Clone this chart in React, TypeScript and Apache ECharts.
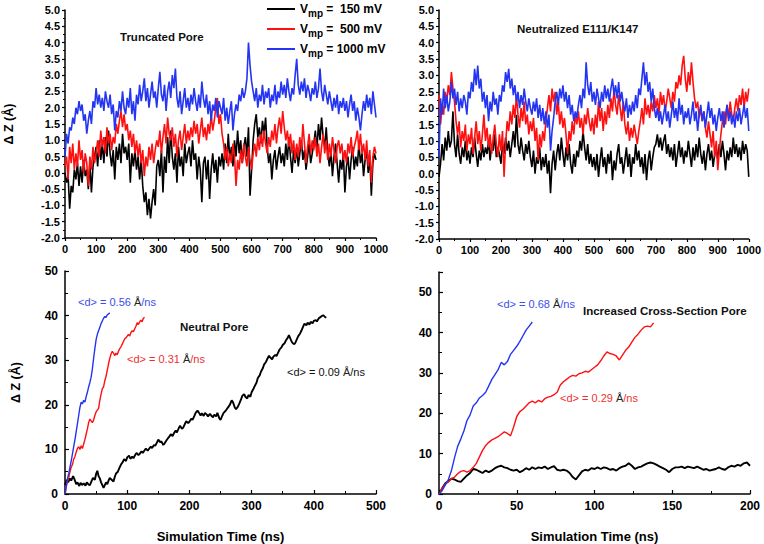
import React, { useEffect, useRef } from "react";
import * as echarts from "echarts";

// ---- data ----
const TOP_STEP_NS = 5; // top panels: one value every 5 ns, 0..1000 ns

const tlBlack = [
  0.0, -0.3, -0.1, -1.1, -0.4, -0.6, 0.1, -0.2, 0.3, -0.4,
  0.2, -0.3, 0.4, -0.1, 0.1, -0.5, 0.3, -0.6, 0.2, 0.5,
  0.8, 0.2, 1.0, 0.4, 0.9, 0.3, 1.1, 0.5, 1.3, 0.6,
  0.2, 0.7, -0.2, 0.8, 0.4, 0.9, 0.3, 1.2, 0.6, 0.8,
  0.4, 0.9, -0.3, 0.6, 0.2, 0.7, 0.1, 0.5, -0.2, 0.4,
  -0.4, -0.9, -0.6, -1.3, -0.8, -1.4, -0.9, -0.5, -1.0, 0.2,
  0.4, -0.1, 0.7, -0.6, 0.5, 0.0, 1.1, 0.3, 1.3, 0.5,
  0.1, 0.6, -0.3, 0.8, 0.2, 0.5, -0.1, 0.9, 0.3, 0.6,
  0.8, 0.2, 1.0, 0.4, 0.6, -0.2, 0.5, 0.1, -0.9, 0.3,
  0.5, -0.2, 0.4, -0.8, 0.1, 0.6, 0.0, 0.4, -0.3, 0.5,
  0.2, 0.6, 0.1, 0.9, 0.3, 1.2, 0.4, 0.8, 0.2, 1.0,
  0.5, 1.3, 0.6, 1.0, 0.3, 0.8, 1.1, 0.5, 1.4, -0.7,
  0.1, 1.0, 1.5, 1.8, 1.1, 1.4, 0.9, 1.6, 1.2, 1.7,
  0.8, 0.3, 0.6, -0.2, 0.4, 0.7, 0.1, 0.5, 0.8, 0.3,
  0.6, 0.2, 0.9, 0.4, 1.1, 0.5, 0.0, 0.7, 0.3, 0.8,
  0.2, 0.6, 1.0, 0.4, 0.7, 0.1, 0.5, 0.9, 0.3, 0.6,
  0.9, 1.3, 0.7, 1.5, 1.0, 1.7, 1.1, 0.8, 1.4, 0.6,
  0.2, 0.7, -0.1, 0.5, 0.9, 0.3, -0.3, 0.4, 0.1, 0.6,
  -0.6, 0.2, 0.5, -0.2, 0.4, 0.8, 0.1, 0.5, 0.2, 0.9,
  0.3, 0.6, -0.1, 0.4, 0.7, 0.0, 0.5, -0.7, 0.3, 0.6,
  0.4,
];

const tlRed = [
  0.2, 0.5, -0.2, 0.8, 0.3, 0.9, 0.1, 0.6, 0.2, 1.0,
  0.4, 0.7, 0.0, 0.6, 0.3, -0.4, 0.5, 0.1, 0.8, 0.3,
  0.6, 1.0, 0.5, 1.3, 0.8, 1.1, 0.6, 1.4, 0.9, 1.2,
  0.7, 1.1, 0.9, 1.5, 1.2, 1.6, 1.9, 1.4, 1.8, 1.3,
  1.5, 1.0, 1.3, 0.8, 1.2, 0.6, 1.0, 0.5, 0.9, 0.3,
  0.7, -0.1, 0.5, 0.2, 0.8, 0.4, 0.9, 0.3, 0.7, 1.0,
  0.8, 1.3, 0.6, 1.1, 1.5, 0.9, 1.7, 1.2, 1.0, 1.4,
  0.8, 1.2, 0.5, 1.0, 1.3, 0.7, 1.1, 1.5, 0.9, 1.3,
  1.0, 1.4, 1.1, 1.6, 1.2, 1.5, 0.9, 1.3, 1.7, 1.1,
  1.4, 1.0, 1.5, 1.2, 1.8, 1.3, 1.6, 2.0, 2.3, 1.5,
  1.8, 1.2, 0.9, 0.4, 0.8, 0.2, 0.6, 0.3, 0.9, 0.5,
  -0.4, 0.4, 0.1, 0.7, 0.3, 0.9, 0.5, 0.2, 0.8, 0.4,
  0.1, 0.6, 0.9, 0.5, 1.1, 0.7, 1.2, 0.8, 1.3, 0.9,
  0.6, 1.1, 0.8, 1.3, 1.0, 1.5, 0.9, 1.4, 1.7, 1.2,
  1.9, 1.4, 1.0, 1.3, 0.8, 1.2, 0.6, 1.0, 0.4, 0.9,
  0.5, 1.1, 0.7, 1.5, 0.9, 0.3, 0.8, 1.2, 0.6, 1.0,
  0.7, 1.1, 0.5, 0.9, 0.3, 0.8, 1.2, 0.6, 1.0, 0.4,
  0.9, 0.5, 1.1, 0.7, 0.3, 0.8, 1.0, 0.6, 0.9, 0.4,
  0.7, 0.3, 0.9, 0.6, 1.1, 0.5, 0.8, 1.0, 1.3, 0.7,
  1.2, 0.6, 0.9, 0.4, 1.0, 0.2, 0.7, -0.3, 0.5, 0.8,
  0.6,
];

const tlBlue = [
  0.5, 1.2, 0.9, 1.4, 1.3, 1.7, 1.5, 2.0, 1.8, 2.2,
  1.9, 2.1, 1.6, 1.8, 1.2, 1.6, 1.9, 1.5, 2.2, 2.0,
  2.6, 2.1, 2.4, 2.0, 2.3, 1.9, 2.5, 2.2, 2.0, 2.4,
  1.8, 2.1, 1.3, 1.9, 1.7, 2.2, 1.9, 2.5, 2.0, 1.8,
  2.3, 2.0, 2.6, 1.8, 2.2, 1.6, 2.4, 2.1, 2.7, 2.2,
  2.5, 2.9, 2.2, 2.6, 2.0, 2.4, 2.8, 2.3, 2.5, 2.0,
  2.6, 3.1, 2.4, 2.2, 2.7, 1.9, 2.5, 2.8, 2.3, 3.0,
  2.6, 3.2, 2.3, 2.0, 2.5, 1.8, 2.2, 2.6, 2.0, 2.3,
  1.9, 2.4, 2.1, 2.6, 2.2, 1.9, 2.4, 2.0, 2.8, 2.3,
  2.0, 2.4, 1.8, 2.2, 1.6, 2.1, 1.9, 2.3, 1.7, 2.2,
  2.0, 1.8, 2.3, 1.6, 2.0, 1.5, 1.9, 2.2, 1.3, 1.8,
  2.1, 1.9, 2.4, 2.2, 2.6, 2.3, 2.5, 2.9, 4.0, 3.3,
  2.8, 2.5, 2.2, 2.6, 2.0, 2.4, 2.2, 2.7, 2.1, 2.5,
  2.3, 2.6, 2.0, 2.4, 2.2, 2.7, 2.1, 2.5, 2.3, 2.8,
  2.4, 2.7, 2.3, 2.9, 2.5, 2.2, 2.6, 2.4, 3.0, 3.5,
  2.7, 2.4, 2.8, 2.5, 2.9, 2.3, 2.7, 2.5, 2.2, 2.6,
  2.4, 2.8, 2.3, 2.6, 3.2, 2.5, 2.2, 2.7, 2.4, 2.1,
  2.5, 2.2, 1.9, 2.3, 2.0, 2.4, 1.8, 2.2, 2.0, 2.3,
  1.9, 2.2, 1.7, 2.1, 2.4, 1.9, 2.2, 1.6, 2.0, 1.7,
  1.3, 1.8, 2.2, 1.9, 2.4, 2.0, 2.3, 1.8, 2.5, 2.1,
  1.7,
];

const trBlack = [
  -0.1, 0.3, 0.9, 0.4, 1.1, 0.7, 1.3, 0.8, 1.0, 1.9,
  0.9, 0.5, 1.2, 0.6, 0.3, 0.8, 0.5, 1.0, 0.4, 0.7,
  0.3, 0.8, 0.5, 1.1, 0.6, 0.2, 0.7, 0.4, 0.9, 0.5,
  0.8, 0.6, 1.0, 0.4, 0.9, 0.7, 1.2, 0.5, 0.8, 0.6,
  0.3, 0.9, 0.6, 1.1, 0.7, 1.0, 0.5, 0.9, 1.3, 0.8,
  1.8, 0.9, 0.6, 1.1, 0.7, 0.4, 0.9, 0.6, 1.0, 0.5,
  0.2, 0.7, 0.0, 0.5, 0.3, 0.8, 0.1, 0.5, 0.2, 0.6,
  0.0, 0.4, -0.6, 0.3, 0.7, 0.1, 0.6, 0.9, 0.4, 1.1,
  0.6, 0.2, 0.8, 0.4, 0.9, 0.3, 0.0, 0.6, 0.2, 0.7,
  0.5, 1.0, 0.7, 1.3, 0.8, 0.4, 0.9, 0.3, 0.6, 0.2,
  0.5, 0.1, 0.6, -0.1, 0.4, 0.8, 0.2, 0.5, 0.0, 0.6,
  0.3, 0.7, -0.2, 0.4, 0.1, 0.6, 0.9, 0.3, 0.5, 0.0,
  0.4, 0.8, 0.2, 0.6, -0.1, 0.5, 0.3, 0.9, 0.4, 0.7,
  0.2, 0.5, 0.0, 0.6, -0.2, 0.4, 0.7, 0.1, 0.5, 0.8,
  0.9, 1.2, 0.8, 1.1, 0.7, 1.0, 1.2, 0.6, 0.9, 0.5,
  0.8, 0.4, 0.9, 0.2, 0.6, 1.0, 0.5, 0.8, 0.3, 0.7,
  0.5, 1.0, 0.6, 0.2, 0.8, 0.4, 0.9, 0.5, 1.1, 0.6,
  0.3, 0.7, 0.1, 0.6, 0.9, 0.4, 0.7, 0.2, 0.6, 0.8,
  0.4, 0.9, 0.5, 1.0, 0.6, 0.1, 0.7, 0.4, 0.8, 0.5,
  1.1, 0.6, 0.9, 0.5, 0.8, 0.4, 1.0, 0.6, 0.9, 0.7,
  -0.1,
];

const trRed = [
  2.4, 1.5, 2.1, 1.8, 2.5, 2.2, 2.7, 2.4, 3.1, 2.6,
  2.2, 1.6, 1.2, 1.6, 0.8, 1.3, 1.0, 1.5, 0.7, 1.2,
  0.9, 1.4, 0.6, 1.1, 1.6, 0.9, 1.3, 0.7, 1.2, 1.8,
  1.0, 1.4, 0.8, 1.2, 0.6, 1.1, 1.5, 0.9, 0.5, 1.2,
  0.7, 1.3, -0.1, 0.9, 1.6, 1.3, 1.9, 1.5, 2.1, 1.7,
  2.4, 1.8, 1.4, 2.0, 1.6, 2.2, 1.5, 1.8, 1.2, 1.6,
  1.3, 1.7, 1.0, 1.4, 0.4, 1.2, 0.8, 1.3, 1.0, 1.6,
  2.0, 2.4, 1.9, 2.6, 2.2, 2.5, 1.8, 2.2, 1.5, 1.9,
  1.4, 1.7, 1.2, 0.6, 1.3, 1.0, 1.6, 1.2, 1.8, 1.5,
  1.9, 1.4, 1.7, 1.2, 1.8, 1.5, 2.0, 1.6, 1.3, 1.7,
  1.2, 1.8, 1.4, 2.2, 1.6, 2.0, 1.3, 1.9, 1.5, 2.1,
  1.7, 2.3, 1.9, 2.6, 2.1, 1.8, 2.4, 2.0, 1.6, 2.2,
  1.5, 1.2, 1.6, 1.0, 1.4, 1.1, 1.5, 1.2, 0.9, 1.3,
  1.6, 2.0, 1.5, 2.3, 1.8, 2.1, 1.7, 2.2, 1.9, 2.4,
  2.0, 2.3, 1.8, 2.5, 2.1, 2.4, 1.9, 2.2, 2.6, 2.3,
  2.0, 2.5, 2.2, 2.8, 2.6, 3.0, 2.7, 3.3, 3.6, 2.9,
  2.5, 3.1, 2.7, 3.4, 2.8, 2.3, 2.0, 2.2, 1.7, 2.0,
  1.6, 1.9, 1.4, 1.1, 1.6, 1.2, 0.8, 1.3, 0.5, 1.0,
  0.1, 0.7, 1.2, 1.6, 1.9, 1.5, 2.1, 1.7, 2.2, 1.8,
  1.6, 2.0, 2.3, 1.9, 2.4, 2.1, 2.6, 2.0, 2.5, 2.2,
  2.6,
];

const trBlue = [
  0.5, 2.3, 1.8, 2.6, 2.0, 2.4, 1.9, 2.2, 2.8, 2.3,
  2.6, 2.1, 2.5, 1.9, 2.3, 2.0, 2.4, 2.2, 1.8, 2.5,
  2.3, 2.8, 2.5, 3.2, 2.7, 3.3, 2.6, 2.9, 2.2, 2.5,
  2.0, 2.4, 1.6, 2.2, 1.9, 2.5, 2.1, 2.3, 1.8, 2.4,
  2.2, 2.7, 2.5, 3.1, 2.8, 3.2, 2.6, 2.9, 2.4, 2.7,
  2.2, 2.5, 2.0, 2.4, 2.1, 2.6, 2.2, 1.9, 2.3, 2.0,
  1.8, 2.2, 1.9, 2.3, 1.7, 2.1, 1.6, 2.0, 1.5, 1.9,
  1.4, 1.8, 0.7, 1.3, 1.7, 2.2, 2.5, 2.1, 2.6, 2.3,
  2.7, 2.2, 2.5, 2.0, 2.4, 1.8, 2.1, 1.6, 1.9, 1.7,
  2.1, 2.4, 2.0, 2.6, 2.3, 3.4, 2.7, 2.4, 2.8, 2.2,
  2.5, 2.1, 2.6, 2.3, 2.0, 2.5, 2.2, 2.7, 2.3, 2.6,
  2.2, 2.6, 2.9, 2.4, 2.7, 2.3, 2.8, 2.2, 2.5, 2.1,
  1.9, 2.3, 1.7, 2.1, 1.8, 2.2, 1.9, 2.4, 2.0, 2.6,
  2.4, 2.9, 3.4, 2.7, 3.1, 2.5, 2.8, 2.2, 2.6, 2.0,
  1.7, 2.0, 1.6, 1.9, 1.5, 1.8, 2.1, 1.6, 1.9, 1.4,
  1.8, 2.2, 1.7, 2.0, 1.6, 2.3, 1.8, 2.1, 1.5, 1.9,
  1.7, 2.0, 1.5, 1.8, 2.2, 1.6, 1.9, 1.3, 1.8, 2.1,
  1.6, 1.9, 1.4, 1.8, 2.2, 1.7, 2.0, 1.5, 1.8, 1.3,
  1.7, 2.0, 1.6, 1.9, 1.4, 1.8, 2.1, 1.6, 1.9, 1.5,
  1.8, 1.4, 1.9, 1.6, 2.0, 1.5, 1.8, 2.1, 1.7, 2.0,
  1.3,
];

// bottom-left: Neutral Pore  [time ns, ΔZ Å]
const blBlack = [
  [0, 2], [3, 3.2], [5, 2.6], [8, 3.5], [10, 3.0], [13, 4.0], [15, 3.4], [18, 2.2], [20, 2.6],
  [23, 1.8], [25, 2.5], [28, 2.0], [30, 2.4], [33, 1.9], [35, 2.6], [38, 2.1], [40, 2.0],
  [43, 3.0], [45, 3.6], [48, 3.2], [50, 4.5], [52, 5.2], [54, 4.0], [56, 3.5], [58, 2.6],
  [60, 2.0], [62, 1.4], [64, 2.0], [66, 2.6], [68, 2.2], [70, 3.0], [72, 3.6], [75, 3.2],
  [78, 2.8], [80, 3.8], [82, 4.6], [85, 5.0], [88, 6.0], [90, 6.6], [93, 7.2], [95, 7.8],
  [98, 7.4], [100, 8.2], [103, 8.6], [105, 7.9], [108, 8.4], [110, 8.0], [113, 8.8], [115, 9.2],
  [118, 8.7], [120, 9.0], [123, 9.6], [125, 9.2], [128, 9.8], [130, 10.2], [133, 9.7], [135, 10.1],
  [138, 10.6], [140, 10.3], [143, 11.0], [145, 10.8], [148, 11.6], [150, 12.2], [153, 11.6],
  [155, 11.8], [158, 11.0], [160, 11.3], [163, 12.0], [165, 12.4], [168, 12.9], [170, 13.4],
  [173, 13.0], [175, 13.6], [178, 14.2], [180, 13.8], [183, 14.8], [185, 15.3], [188, 14.6],
  [190, 14.9], [193, 15.8], [195, 16.3], [198, 15.9], [200, 16.2], [203, 16.9], [205, 16.6],
  [208, 17.5], [210, 18.2], [213, 18.7], [215, 18.3], [218, 17.6], [220, 18.1], [223, 17.5],
  [225, 18.2], [228, 17.8], [230, 17.4], [233, 18.0], [235, 17.6], [238, 17.2], [240, 17.8],
  [243, 17.4], [245, 18.2], [248, 17.0], [250, 16.6], [253, 17.6], [255, 18.2], [258, 18.6],
  [260, 19.0], [263, 19.6], [265, 20.0], [268, 21.0], [270, 20.6], [273, 19.4], [275, 19.0],
  [278, 19.6], [280, 20.2], [283, 21.2], [285, 22.0], [288, 22.4], [290, 21.8], [293, 21.4],
  [295, 22.2], [298, 21.8], [300, 22.8], [303, 23.6], [305, 24.2], [308, 25.0], [310, 26.0],
  [313, 26.6], [315, 27.4], [318, 28.2], [320, 29.0], [323, 29.6], [325, 30.2], [328, 31.0],
  [330, 30.6], [333, 30.2], [335, 30.8], [338, 31.2], [340, 30.9], [343, 31.8], [345, 32.4],
  [348, 32.9], [350, 33.4], [353, 33.8], [355, 34.4], [358, 35.0], [360, 35.6], [363, 34.6],
  [365, 34.0], [368, 33.6], [370, 33.8], [373, 34.8], [375, 35.4], [378, 36.0], [380, 36.6],
  [383, 37.6], [385, 38.2], [388, 37.8], [390, 38.4], [393, 38.0], [395, 38.6], [398, 38.3],
  [400, 38.8], [403, 39.0], [405, 38.7], [408, 39.4], [410, 39.6], [413, 39.9], [415, 40.1],
  [418, 39.7], [420, 39.5],
];

const blRed = [
  [0, 0], [2, 1.6], [4, 2.8], [6, 3.6], [8, 5.0], [10, 6.0], [12, 6.6], [14, 7.8], [16, 8.4],
  [18, 9.4], [20, 10.2], [22, 10.6], [24, 10.0], [26, 10.8], [28, 10.2], [30, 11.2], [32, 12.2],
  [34, 13.4], [36, 14.6], [38, 16.0], [40, 16.8], [42, 16.4], [44, 16.0], [46, 16.6], [48, 17.6],
  [50, 18.4], [52, 18.8], [54, 19.2], [56, 21.0], [58, 22.4], [60, 23.6], [62, 24.0], [64, 25.4],
  [66, 26.4], [68, 27.8], [70, 29.2], [72, 30.4], [74, 31.4], [76, 32.0], [78, 31.6], [80, 31.0],
  [82, 31.6], [84, 31.2], [86, 32.0], [88, 32.6], [90, 33.0], [92, 33.6], [94, 34.2], [96, 34.8],
  [98, 35.0], [100, 35.4], [102, 35.8], [104, 35.4], [106, 36.2], [108, 36.6], [110, 36.4],
  [112, 37.0], [114, 37.6], [116, 38.4], [118, 38.0], [120, 38.6], [122, 39.0], [124, 38.6],
  [126, 39.4], [128, 39.6],
];

const blBlue = [
  [0, 0], [2, 1.8], [4, 3.4], [6, 4.6], [8, 6.0], [10, 7.4], [12, 9.0], [14, 10.6], [16, 12.2],
  [18, 14.0], [20, 15.8], [22, 17.6], [24, 19.4], [26, 20.6], [28, 20.2], [30, 21.0], [32, 20.6],
  [34, 21.8], [36, 22.8], [38, 24.0], [40, 25.0], [42, 26.2], [44, 28.0], [46, 30.4], [48, 32.6],
  [50, 34.6], [52, 35.8], [54, 36.6], [56, 37.4], [58, 38.2], [60, 38.8], [62, 39.4], [64, 39.8],
  [66, 39.6], [68, 40.2], [70, 40.4], [72, 40.6],
];

// bottom-right: Increased Cross-Section Pore
const brBlack = [
  [0, 0], [2, 1.4], [4, 2.6], [6, 3.2], [8, 3.8], [10, 3.6], [12, 3.2], [14, 3.0], [16, 3.8],
  [18, 4.6], [20, 5.2], [22, 6.2], [24, 6.0], [26, 5.6], [28, 5.2], [30, 5.8], [32, 5.4],
  [34, 5.8], [36, 6.4], [38, 6.8], [40, 7.0], [42, 6.6], [44, 6.4], [46, 6.0], [48, 5.8],
  [50, 6.0], [52, 5.4], [54, 5.8], [56, 6.4], [58, 6.0], [60, 6.6], [62, 6.2], [64, 6.6],
  [66, 6.4], [68, 6.8], [70, 6.2], [72, 6.6], [74, 6.9], [76, 6.0], [78, 5.8], [80, 6.0],
  [82, 5.8], [84, 5.2], [86, 4.2], [88, 3.6], [90, 4.6], [92, 5.6], [94, 6.0], [96, 5.8],
  [98, 6.4], [100, 6.2], [102, 6.6], [104, 6.2], [106, 6.6], [108, 6.4], [110, 6.0], [112, 6.2],
  [114, 5.8], [116, 6.4], [118, 6.8], [120, 7.0], [122, 7.6], [124, 7.0], [126, 6.2], [128, 6.6],
  [130, 6.8], [132, 7.2], [134, 7.6], [136, 7.8], [138, 7.6], [140, 7.2], [142, 6.8], [144, 6.4],
  [146, 6.0], [148, 5.4], [150, 6.2], [152, 6.6], [154, 6.6], [156, 6.8], [158, 6.4], [160, 6.8],
  [162, 6.6], [164, 6.4], [166, 6.8], [168, 6.4], [170, 6.0], [172, 6.2], [174, 5.8], [176, 6.0],
  [178, 6.2], [180, 6.6], [182, 6.2], [184, 6.0], [186, 6.6], [188, 7.0], [190, 6.8], [192, 7.2],
  [194, 7.0], [196, 7.6], [198, 7.8], [200, 7.0],
];

const brRed = [
  [0, 0], [2, 1.4], [4, 2.4], [6, 3.0], [8, 3.8], [10, 4.2], [12, 5.0], [14, 5.6], [16, 5.8],
  [18, 5.4], [20, 5.8], [22, 6.6], [24, 7.6], [26, 9.2], [28, 10.8], [30, 12.0], [32, 12.8],
  [34, 13.4], [36, 13.8], [38, 14.2], [40, 14.8], [42, 15.4], [44, 15.0], [46, 14.4], [48, 16.6],
  [50, 19.2], [52, 20.4], [54, 21.0], [56, 21.8], [58, 22.6], [60, 23.0], [62, 22.6], [64, 23.2],
  [66, 22.8], [68, 23.6], [70, 24.0], [72, 24.2], [74, 24.6], [76, 25.2], [78, 27.0], [80, 27.8],
  [82, 28.4], [84, 29.0], [86, 29.4], [88, 29.2], [90, 29.8], [92, 30.0], [94, 30.4], [96, 30.2],
  [98, 30.8], [100, 31.4], [102, 32.0], [104, 33.0], [106, 34.2], [108, 35.2], [110, 34.8],
  [112, 34.6], [114, 34.2], [116, 33.2], [118, 34.4], [120, 35.6], [122, 36.4], [124, 37.6],
  [126, 38.8], [128, 39.6], [130, 40.6], [132, 41.4], [134, 41.6], [136, 41.4], [138, 42.4],
];

const brBlue = [
  [0, 0], [2, 0.8], [4, 2.2], [6, 3.6], [8, 5.8], [10, 9.0], [12, 11.8], [14, 13.6], [16, 15.6],
  [18, 18.2], [20, 19.6], [22, 21.8], [24, 22.6], [26, 23.8], [28, 24.4], [30, 25.2], [32, 26.8],
  [34, 28.4], [36, 29.6], [38, 30.8], [40, 32.6], [42, 32.0], [44, 32.8], [46, 34.6], [48, 35.6],
  [50, 36.6], [52, 37.8], [54, 39.2], [56, 40.6], [58, 41.6], [60, 42.6],
];

const SERIES_NAMES = ["150 mV", "500 mV", "1000 mV"];
const LEGEND_VALUES = ["=  150 mV", "=  500 mV", "= 1000 mV"];

const BLACK = "#000000";
const RED = "#ff1010";
const BLUE = "#2435f2";
const FONT = '"Liberation Sans", Arial, sans-serif';

const topPairs = (arr: number[]) => arr.map((v, i) => [i * TOP_STEP_NS, v]);

export default function App() {
  const ref = useRef<HTMLDivElement>(null);

  useEffect(() => {
    if (!ref.current) return;
    const chart = echarts.init(ref.current, undefined, { renderer: "svg" });

    const axisLine = { show: true, onZero: false, lineStyle: { color: "#000", width: 1.5 } };

    const topX = (gridIndex: number) => ({
      type: "value",
      gridIndex,
      min: 0,
      max: 1000,
      interval: 100,
      axisLine,
      axisTick: { show: true, length: 3, lineStyle: { color: "#000", width: 1.2 } },
      minorTick: { show: true, splitNumber: 2, length: 2, lineStyle: { color: "#000", width: 1 } },
      splitLine: { show: false },
      axisLabel: {
        color: "#000",
        fontWeight: "bold",
        fontSize: 11,
        fontFamily: FONT,
        margin: 5,
        formatter: (v: number) => String(v),
      },
    });
    const topY = (gridIndex: number, withName: boolean) => ({
      type: "value",
      gridIndex,
      min: -2,
      max: 5,
      interval: 0.5,
      name: withName ? "Δ Z (Å)" : "",
      nameLocation: "middle",
      nameGap: 50,
      nameTextStyle: { color: "#000", fontWeight: "bold", fontSize: 12.5, fontFamily: FONT },
      axisLine,
      axisTick: { show: true, length: 3, lineStyle: { color: "#000", width: 1.2 } },
      minorTick: { show: true, splitNumber: 2, length: 2, lineStyle: { color: "#000", width: 1 } },
      splitLine: { show: false },
      axisLabel: {
        color: "#000",
        fontWeight: "bold",
        fontSize: 11,
        fontFamily: FONT,
        margin: 5,
        formatter: (v: number) => v.toFixed(1),
      },
    });
    const botX = (gridIndex: number, max: number, interval: number) => ({
      type: "value",
      gridIndex,
      min: 0,
      max,
      interval,
      name: "Simulation Time (ns)",
      nameLocation: "middle",
      nameGap: 36,
      nameTextStyle: { color: "#000", fontWeight: "bold", fontSize: 13, fontFamily: FONT },
      axisLine,
      axisTick: { show: true, inside: true, length: 4, lineStyle: { color: "#000", width: 1.2 } },
      minorTick: { show: true, splitNumber: 2, length: 3, lineStyle: { color: "#000", width: 1 } },
      splitLine: { show: false },
      axisLabel: {
        color: "#000",
        fontWeight: "bold",
        fontSize: 12,
        fontFamily: FONT,
        margin: 6,
        formatter: (v: number) => String(v),
      },
    });
    const botY = (gridIndex: number, max: number, withName: boolean) => ({
      type: "value",
      gridIndex,
      min: 0,
      max,
      interval: 10,
      name: withName ? "Δ Z (Å)" : "",
      nameLocation: "middle",
      nameGap: 43,
      nameTextStyle: { color: "#000", fontWeight: "bold", fontSize: 12.5, fontFamily: FONT },
      axisLine,
      axisTick: { show: true, inside: true, length: 4, lineStyle: { color: "#000", width: 1.2 } },
      minorTick: { show: true, splitNumber: 2, length: 3, lineStyle: { color: "#000", width: 1 } },
      splitLine: { show: false },
      axisLabel: {
        color: "#000",
        fontWeight: "bold",
        fontSize: 12,
        fontFamily: FONT,
        margin: 7,
        showMaxLabel: max === 50,
      },
    });

    const line = (name: string, color: string, data: any[], idx: number, width: number) => ({
      type: "line",
      name,
      xAxisIndex: idx,
      yAxisIndex: idx,
      data,
      showSymbol: false,
      symbol: "none",
      lineStyle: { color, width },
      itemStyle: { color },
      z: 2,
    });

    const ann = (x: number, y: number, value: string, color: string) => ({
      type: "text",
      x,
      y,
      style: {
        text: `{c|<d> = ${value} }{k|Å}{c|/ns}`,
        verticalAlign: "middle",
        align: "left",
        rich: {
          c: { fill: color, fontSize: 11, fontFamily: FONT },
          k: { fill: "#222", fontSize: 11, fontFamily: FONT },
        },
      },
    });
    const title = (x: number, y: number, text: string) => ({
      type: "text",
      x,
      y,
      style: {
        text,
        fill: "#111",
        font: `bold 11.5px ${FONT}`,
        verticalAlign: "middle",
        align: "left",
      },
    });

    chart.setOption({
      animation: false,
      backgroundColor: "#fff",
      grid: [
        { left: 65, top: 10, width: 311, height: 228 },
        { left: 439, top: 10, width: 311, height: 229 },
        { left: 65, top: 271, width: 311, height: 229 },
        { left: 439, top: 272, width: 311, height: 227 },
      ],
      xAxis: [topX(0), topX(1), botX(2, 500, 100), botX(3, 200, 50)],
      yAxis: [topY(0, true), topY(1, false), botY(2, 50, true), botY(3, 55, false)],
      legend: {
        data: SERIES_NAMES,
        orient: "vertical",
        left: 262,
        top: -2,
        itemWidth: 28,
        itemHeight: 2,
        itemGap: 5,
        icon: "rect",
        formatter: (name: string) => {
          const i = SERIES_NAMES.indexOf(name);
          return `{v|V}{s|mp}{v| ${LEGEND_VALUES[i]}}`;
        },
        textStyle: {
          color: "#000",
          rich: {
            v: { fontSize: 12, fontWeight: "bold", fontFamily: FONT, color: "#000" },
            s: { fontSize: 10, fontWeight: "bold", fontFamily: FONT, color: "#000", padding: [8, 0, 0, 0] },
          },
        },
      },
      series: [
        line(SERIES_NAMES[0], BLACK, topPairs(tlBlack), 0, 1.6),
        line(SERIES_NAMES[1], RED, topPairs(tlRed), 0, 1.6),
        line(SERIES_NAMES[2], BLUE, topPairs(tlBlue), 0, 1.6),
        line(SERIES_NAMES[0], BLACK, topPairs(trBlack), 1, 1.6),
        line(SERIES_NAMES[1], RED, topPairs(trRed), 1, 1.6),
        line(SERIES_NAMES[2], BLUE, topPairs(trBlue), 1, 1.6),
        line(SERIES_NAMES[0], BLACK, blBlack, 2, 1.9),
        line(SERIES_NAMES[1], RED, blRed, 2, 1.4),
        line(SERIES_NAMES[2], BLUE, blBlue, 2, 1.4),
        line(SERIES_NAMES[0], BLACK, brBlack, 3, 1.9),
        line(SERIES_NAMES[1], RED, brRed, 3, 1.4),
        line(SERIES_NAMES[2], BLUE, brBlue, 3, 1.4),
      ],
      graphic: [
        title(120, 37, "Truncated Pore"),
        title(517, 29, "Neutralized E111/K147"),
        title(180, 327, "Neutral Pore"),
        title(583, 311, "Increased Cross-Section Pore"),
        ann(78, 302, "0.56", "#3a4ee8"),
        ann(127, 359, "0.31", "#ee3030"),
        ann(287, 372, "0.09", "#111"),
        ann(497, 304, "0.68", "#3a4ee8"),
        ann(560, 398, "0.29", "#ee3030"),
      ],
    });

    return () => chart.dispose();
  }, []);

  return (
    <div
      ref={ref}
      style={{ position: "absolute", left: 0, top: 0, width: 764, height: 544, background: "#fff" }}
    />
  );
}
